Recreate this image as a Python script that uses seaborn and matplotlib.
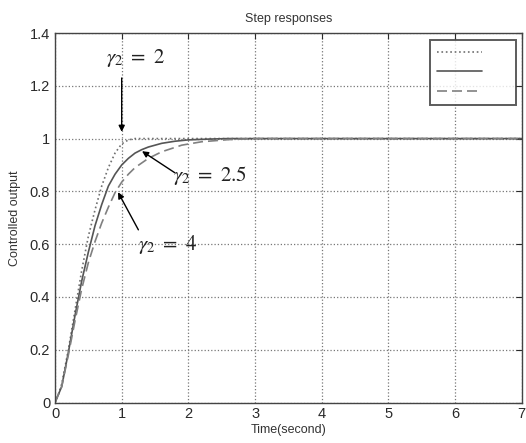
import numpy as np
import pandas as pd
import matplotlib
matplotlib.use("Agg")
import matplotlib.pyplot as plt
import seaborn as sns

# step response samples
t_g2 = [0, 0.05, 0.1, 0.2, 0.3, 0.4, 0.5, 0.6, 0.7, 0.8, 0.9, 1.0, 1.1, 1.2, 1.4, 1.7, 2.0, 3.0, 5.0, 7.0]
y_g2 = [0, 0.03, 0.07, 0.2, 0.35, 0.5, 0.63, 0.73, 0.82, 0.89, 0.945, 0.98, 0.995, 1.0, 1.0, 1.0, 1.0, 1.0, 1.0, 1.0]

t_g25 = [0, 0.05, 0.1, 0.2, 0.3, 0.4, 0.5, 0.6, 0.7, 0.8, 0.9, 1.0, 1.1, 1.2, 1.3, 1.4, 1.6, 1.8, 2.0, 2.3, 2.6, 3.0, 5.0, 7.0]
y_g25 = [0, 0.03, 0.06, 0.19, 0.33, 0.46, 0.57, 0.67, 0.75, 0.82, 0.865, 0.9, 0.925, 0.945, 0.958, 0.968, 0.982, 0.99, 0.995, 0.998, 1.0, 1.0, 1.0, 1.0]

t_g4 = [0, 0.05, 0.1, 0.2, 0.3, 0.4, 0.5, 0.6, 0.7, 0.8, 0.9, 1.0, 1.1, 1.2, 1.4, 1.6, 1.9, 2.2, 2.6, 3.0, 3.5, 5.0, 7.0]
y_g4 = [0, 0.03, 0.06, 0.18, 0.31, 0.43, 0.53, 0.61, 0.68, 0.74, 0.795, 0.835, 0.865, 0.89, 0.925, 0.95, 0.975, 0.988, 0.996, 1.0, 1.0, 1.0, 1.0]

x_ticks = [0, 1, 2, 3, 4, 5, 6, 7]
y_ticks = [0, 0.2, 0.4, 0.6, 0.8, 1, 1.2, 1.4]
y_tick_labels = ["0", "0.2", "0.4", "0.6", "0.8", "1", "1.2", "1.4"]

sns.set_style("white")
plt.rcParams["font.family"] = ["Liberation Sans", "DejaVu Sans"]
plt.rcParams["mathtext.fontset"] = "stix"

fig = plt.figure(figsize=(5.26, 4.43), dpi=100)
ax = fig.add_axes([0.1046, 0.0914, 0.8874, 0.8341])

sns.lineplot(x=t_g2, y=y_g2, ax=ax, color="#707070", linestyle=":", linewidth=1.2)
sns.lineplot(x=t_g25, y=y_g25, ax=ax, color="#555555", linestyle="-", linewidth=1.2)
sns.lineplot(x=t_g4, y=y_g4, ax=ax, color="#808080", linestyle=(0, (6, 3)), linewidth=1.2)
lines = ax.get_lines()

ax.set_xlim(0, 7)
ax.set_ylim(0, 1.4)
ax.set_xticks(x_ticks)
ax.set_yticks(y_ticks)
ax.set_yticklabels(y_tick_labels)
ax.tick_params(direction="in", length=4, top=True, right=True, labelsize=10.5,
               colors="#2a2a2a", width=0.8)
ax.grid(True, linestyle=":", color="#777777", linewidth=0.9)
for s in ax.spines.values():
    s.set_color("#444444")
    s.set_linewidth(1.0)

ax.set_title("Step responses", fontsize=9, color="#333333", pad=8)
ax.set_xlabel("Time(second)", fontsize=9, color="#333333", labelpad=2)
ax.set_ylabel("Controlled output", fontsize=9, color="#333333", labelpad=6)

# legend with line samples only
leg = ax.legend(lines[:3], ["", "", ""], loc="upper right", bbox_to_anchor=(0.988, 0.98),
                frameon=True, fancybox=False, handlelength=3.6, handletextpad=2.2,
                borderpad=0.55, borderaxespad=0.0, labelspacing=0.6, fontsize=9)
leg.get_frame().set_edgecolor("#333333")
leg.get_frame().set_linewidth(1.4)

arrow = dict(arrowstyle="-|>", color="black", linewidth=1.0, mutation_scale=9)
ax.annotate("", xy=(1.0, 1.015), xytext=(1.0, 1.24), arrowprops=arrow)
ax.text(1.2, 1.305, r"$\gamma_2\ =\ 2$", fontsize=15, ha="center", va="center", color="#222222")
ax.annotate("", xy=(1.27, 0.958), xytext=(1.83, 0.865), arrowprops=arrow)
ax.text(2.33, 0.86, r"$\gamma_2\ =\ 2.5$", fontsize=15, ha="center", va="center", color="#222222")
ax.annotate("", xy=(0.925, 0.806), xytext=(1.27, 0.645), arrowprops=arrow)
ax.text(1.68, 0.6, r"$\gamma_2\ =\ 4$", fontsize=15, ha="center", va="center", color="#222222")

fig.savefig("out.png", dpi=100)
